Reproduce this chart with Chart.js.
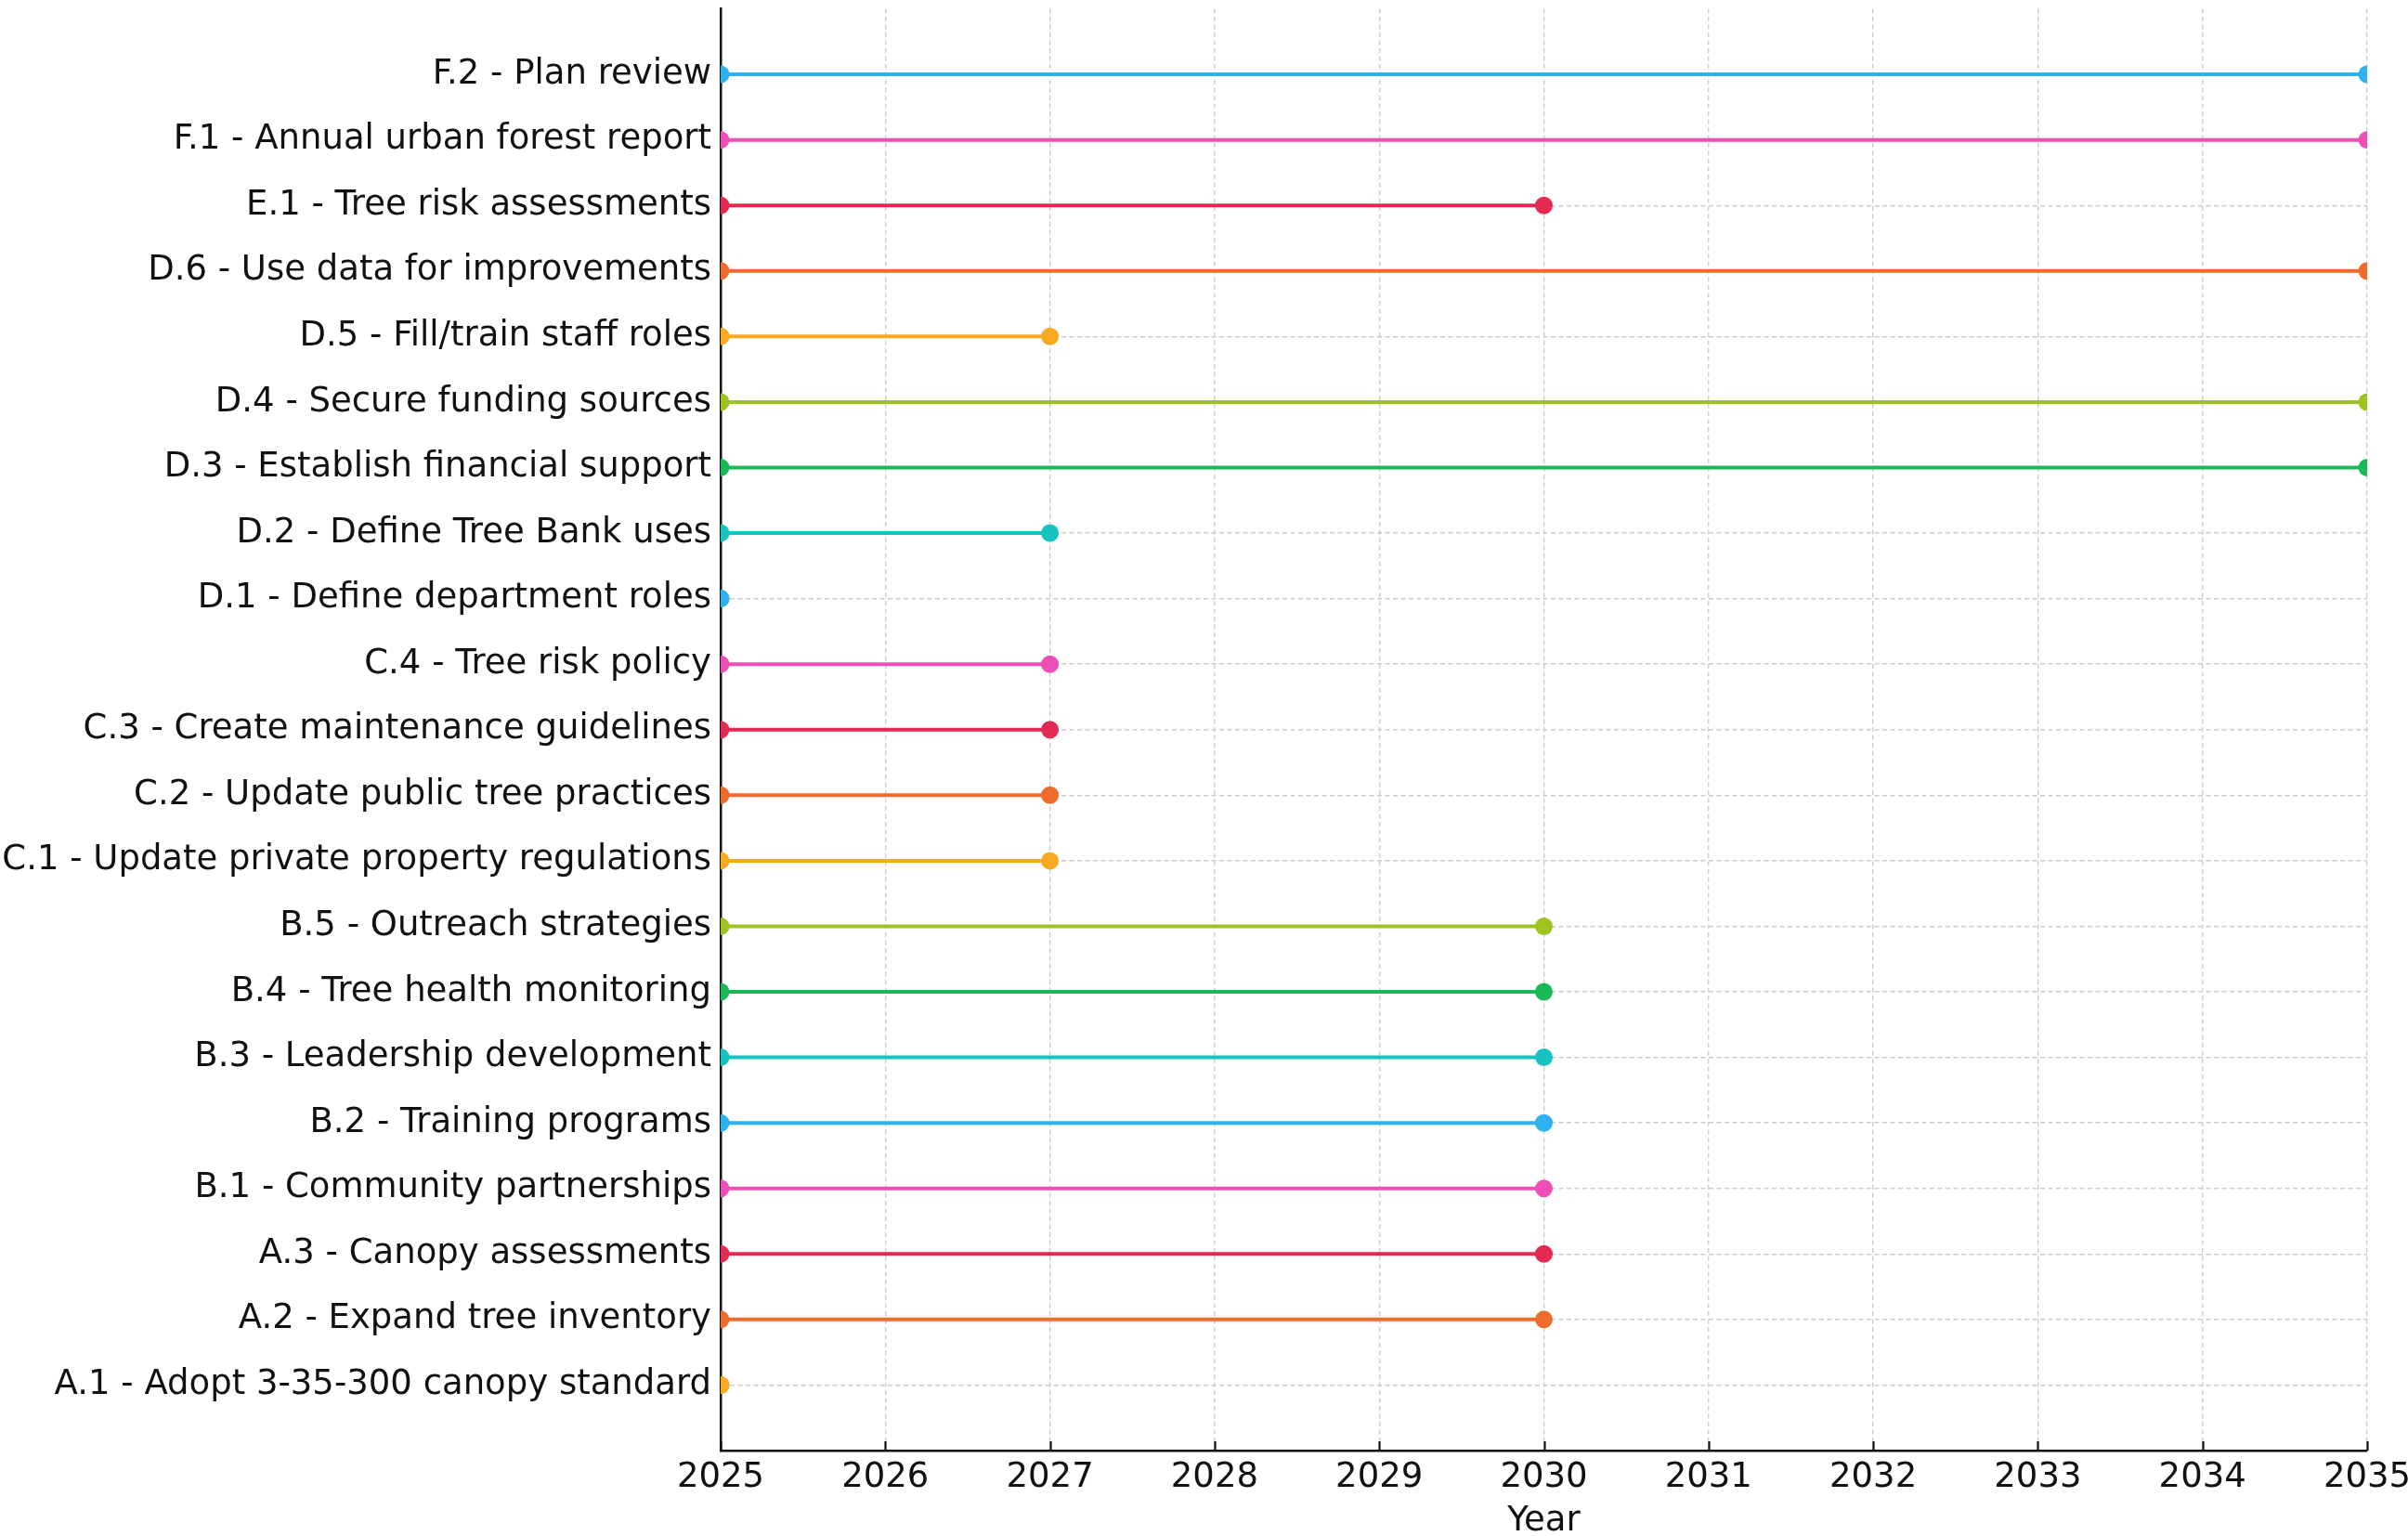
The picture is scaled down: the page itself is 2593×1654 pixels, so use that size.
<!DOCTYPE html>
<html>
<head>
<meta charset="utf-8">
<script src="https://cdn.jsdelivr.net/npm/chart.js@4.4.1/dist/chart.umd.min.js"></script>
<style>
  html, body { margin: 0; padding: 0; background: #ffffff; }
  #wrap { width: 2593px; height: 1654px; }
</style>
</head>
<body>
<div id="wrap"><canvas id="c" width="2593" height="1654"></canvas></div>
<script>
// Tasks listed bottom (index 0) to top
const tasks = [
  "A.1 - Adopt 3-35-300 canopy standard",
  "A.2 - Expand tree inventory",
  "A.3 - Canopy assessments",
  "B.1 - Community partnerships",
  "B.2 - Training programs",
  "B.3 - Leadership development",
  "B.4 - Tree health monitoring",
  "B.5 - Outreach strategies",
  "C.1 - Update private property regulations",
  "C.2 - Update public tree practices",
  "C.3 - Create maintenance guidelines",
  "C.4 - Tree risk policy",
  "D.1 - Define department roles",
  "D.2 - Define Tree Bank uses",
  "D.3 - Establish financial support",
  "D.4 - Secure funding sources",
  "D.5 - Fill/train staff roles",
  "D.6 - Use data for improvements",
  "E.1 - Tree risk assessments",
  "F.1 - Annual urban forest report",
  "F.2 - Plan review"
];
const startYears = [2025, 2025, 2025, 2025, 2025, 2025, 2025, 2025, 2025, 2025, 2025,
                    2025, 2025, 2025, 2025, 2025, 2025, 2025, 2025, 2025, 2025];
const endYears   = [2025, 2030, 2030, 2030, 2030, 2030, 2030, 2030, 2027, 2027, 2027,
                    2027, 2025, 2027, 2035, 2035, 2027, 2035, 2030, 2035, 2035];
const yearTicks = [2025, 2026, 2027, 2028, 2029, 2030, 2031, 2032, 2033, 2034, 2035];
const xTitle = "Year";

const palette = ['#f7a922', '#ee6b2b', '#e52a52', '#ee4fb7', '#2db1ef', '#18c2bf', '#1ab957', '#9cc31f'];

const FONT = "'DejaVu Sans', 'Liberation Sans', sans-serif";

const datasets = tasks.map((t, i) => ({
  label: t,
  data: [{x: startYears[i], y: i}, {x: endYears[i], y: i}],
  borderColor: palette[i % palette.length],
  backgroundColor: palette[i % palette.length],
  pointBackgroundColor: palette[i % palette.length],
  borderWidth: 4,
  pointRadius: 9.5,
  pointBorderWidth: 0,
  pointHoverRadius: 9.5,
  showLine: true,
  tension: 0,
  clip: 0
}));

const inwardTicks = {
  id: 'inwardTicks',
  afterDraw(chart) {
    const xs = chart.scales.x;
    const ctx = chart.ctx;
    const bottom = chart.chartArea.bottom;
    ctx.save();
    ctx.strokeStyle = '#111111';
    ctx.lineWidth = 2.2;
    yearTicks.forEach(v => {
      const px = Math.round(xs.getPixelForValue(v)) + 0.5;
      ctx.beginPath();
      ctx.moveTo(px, bottom);
      ctx.lineTo(px, bottom - 10);
      ctx.stroke();
    });
    ctx.restore();
  }
};

new Chart(document.getElementById('c'), {
  type: 'line',
  data: { datasets },
  options: {
    responsive: false,
    animation: false,
    events: [],
    layout: { padding: { top: 6, right: 44, bottom: 0, left: 0 } },
    plugins: {
      legend: { display: false },
      tooltip: { enabled: false },
      title: { display: false }
    },
    scales: {
      x: {
        type: 'linear',
        min: 2025,
        max: 2035,
        afterBuildTicks: (scale) => { scale.ticks = yearTicks.map(v => ({ value: v })); },
        afterFit: (scale) => { scale.height = 92; scale.paddingLeft = 0; scale.paddingRight = 0; },
        ticks: {
          color: '#111111',
          font: { family: FONT, size: 37 },
          padding: 7,
          maxRotation: 0,
          autoSkip: false,
          callback: (v) => String(v)
        },
        grid: {
          color: '#cccccc',
          lineWidth: 1.4,
          drawTicks: false
        },
        border: { display: true, color: '#111111', width: 2.5, dash: [5, 3.5] },
        title: {
          display: true,
          text: xTitle,
          color: '#111111',
          font: { family: FONT, size: 37, lineHeight: 0.85 },
          padding: { top: 0, bottom: 0 }
        }
      },
      y: {
        type: 'linear',
        min: -1,
        max: tasks.length,
        afterBuildTicks: (scale) => { scale.ticks = tasks.map((_, i) => ({ value: i })); },
        afterFit: (scale) => { scale.width = 776; scale.paddingTop = 0; scale.paddingBottom = 0; },
        ticks: {
          color: '#111111',
          font: { family: FONT, size: 37 },
          padding: 10,
          autoSkip: false,
          callback: (v) => tasks[v] !== undefined ? tasks[v] : ''
        },
        grid: {
          color: '#cccccc',
          lineWidth: 1.4,
          drawTicks: false
        },
        border: { display: true, color: '#111111', width: 2.5, dash: [5, 3.5] }
      }
    }
  },
  plugins: [inwardTicks]
});
</script>
</body>
</html>
